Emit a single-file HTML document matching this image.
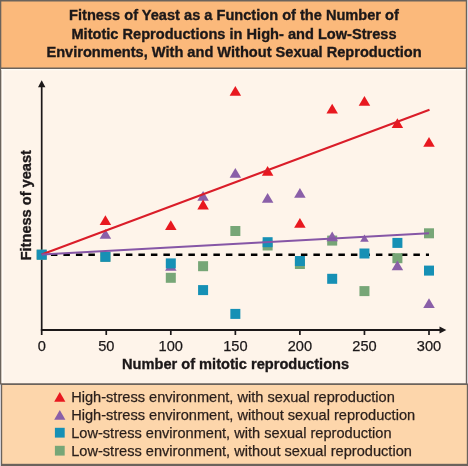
<!DOCTYPE html>
<html><head><meta charset="utf-8">
<style>
html,body{margin:0;padding:0;width:468px;height:466px;overflow:hidden;background:#6b635c;}
svg{display:block;will-change:transform;}
text{font-family:"Liberation Sans",sans-serif;font-size:14.6px;fill:#1c1819;stroke:#1c1819;stroke-width:0.25px;}
text.b,.b text{stroke-width:0.35px;}
.b{font-weight:bold;}
</style></head><body>
<svg width="468" height="466" viewBox="0 0 468 466">
<rect x="0" y="0" width="468" height="466" fill="#d2d0d6"/>
<rect x="0" y="0" width="467" height="384.5" fill="#6b635c"/>
<rect x="1.3" y="1.5" width="464.5" height="66" fill="#fbb97b"/>
<rect x="1.3" y="69" width="464.5" height="314.5" fill="#fef4ea"/>
<rect x="1.3" y="69" width="464.5" height="1.2" fill="#fffdf7"/>
<rect x="2.2" y="69" width="1.2" height="314" fill="#fffdf9"/>
<rect x="1" y="383.5" width="467" height="82.5" fill="#6b635c"/>
<rect x="2.2" y="385" width="464.6" height="78.8" fill="#fdd6ab"/>
<g class="b" text-anchor="middle">
<text class="b" x="234" y="20.3">Fitness of Yeast as a Function of the Number of</text>
<text class="b" x="234" y="38.8">Mitotic Reproductions in High- and Low-Stress</text>
<text class="b" x="234" y="57.3">Environments, With and Without Sexual Reproduction</text>
</g>
<line x1="41.7" y1="86" x2="41.7" y2="335" stroke="#1c1819" stroke-width="1.7"/>
<path d="M41.7 80.3L45.4 87.3L38 87.3Z" fill="#1c1819"/>
<line x1="40.85" y1="330" x2="440" y2="330" stroke="#1c1819" stroke-width="1.9"/>
<path d="M446.3 330L439.5 326.5L439.5 333.5Z" fill="#1c1819"/>
<line x1="106.25" y1="330" x2="106.25" y2="335" stroke="#1c1819" stroke-width="1.7"/>
<line x1="170.80" y1="330" x2="170.80" y2="335" stroke="#1c1819" stroke-width="1.7"/>
<line x1="235.35" y1="330" x2="235.35" y2="335" stroke="#1c1819" stroke-width="1.7"/>
<line x1="299.90" y1="330" x2="299.90" y2="335" stroke="#1c1819" stroke-width="1.7"/>
<line x1="364.45" y1="330" x2="364.45" y2="335" stroke="#1c1819" stroke-width="1.7"/>
<line x1="429.00" y1="330" x2="429.00" y2="335" stroke="#1c1819" stroke-width="1.7"/>
<line x1="38.4" y1="254.8" x2="429" y2="254.8" stroke="#000" stroke-width="2.4" stroke-dasharray="6.5 6"/>
<rect x="36.70" y="249.70" width="10.0" height="10.0" fill="#77a677"/>
<rect x="100.40" y="251.80" width="10.0" height="10.0" fill="#77a677"/>
<rect x="165.80" y="272.80" width="10.0" height="10.0" fill="#77a677"/>
<rect x="198.08" y="261.20" width="10.0" height="10.0" fill="#77a677"/>
<rect x="230.35" y="226.00" width="10.0" height="10.0" fill="#77a677"/>
<rect x="262.63" y="240.50" width="10.0" height="10.0" fill="#77a677"/>
<rect x="294.90" y="259.00" width="10.0" height="10.0" fill="#77a677"/>
<rect x="327.18" y="235.60" width="10.0" height="10.0" fill="#77a677"/>
<rect x="359.45" y="286.10" width="10.0" height="10.0" fill="#77a677"/>
<rect x="392.40" y="253.20" width="10.0" height="10.0" fill="#77a677"/>
<rect x="424.00" y="228.30" width="10.0" height="10.0" fill="#77a677"/>
<path d="M105.40 228.90L111.15 238.70L99.65 238.70Z" fill="#8a5fa8"/>
<path d="M170.80 261.00L176.55 270.80L165.05 270.80Z" fill="#8a5fa8"/>
<path d="M203.08 191.00L208.83 200.80L197.33 200.80Z" fill="#8a5fa8"/>
<path d="M235.35 167.90L241.10 177.70L229.60 177.70Z" fill="#8a5fa8"/>
<path d="M267.63 193.00L273.38 202.80L261.88 202.80Z" fill="#8a5fa8"/>
<path d="M299.90 188.00L305.65 197.80L294.15 197.80Z" fill="#8a5fa8"/>
<path d="M332.18 231.40L337.93 241.20L326.43 241.20Z" fill="#8a5fa8"/>
<path d="M364.45 234.40L368.75 241.80L360.15 241.80Z" fill="#8a5fa8"/>
<path d="M397.40 260.50L403.15 270.30L391.65 270.30Z" fill="#8a5fa8"/>
<path d="M429.00 298.20L434.75 308.00L423.25 308.00Z" fill="#8a5fa8"/>
<path d="M105.40 215.30L111.15 225.10L99.65 225.10Z" fill="#e8181f"/>
<path d="M170.80 220.30L176.55 230.10L165.05 230.10Z" fill="#e8181f"/>
<path d="M203.08 199.60L208.83 209.40L197.33 209.40Z" fill="#e8181f"/>
<path d="M235.35 86.00L241.10 95.80L229.60 95.80Z" fill="#e8181f"/>
<path d="M267.63 165.90L273.38 175.70L261.88 175.70Z" fill="#e8181f"/>
<path d="M299.90 217.90L305.65 227.70L294.15 227.70Z" fill="#e8181f"/>
<path d="M332.18 103.80L337.93 113.60L326.43 113.60Z" fill="#e8181f"/>
<path d="M364.45 95.90L370.20 105.70L358.70 105.70Z" fill="#e8181f"/>
<path d="M397.40 118.20L403.15 128.00L391.65 128.00Z" fill="#e8181f"/>
<path d="M429.00 137.00L434.75 146.80L423.25 146.80Z" fill="#e8181f"/>
<rect x="36.70" y="249.70" width="10.0" height="10.0" fill="#1690b5"/>
<rect x="100.40" y="251.80" width="10.0" height="10.0" fill="#1690b5"/>
<rect x="165.80" y="258.40" width="10.0" height="10.0" fill="#1690b5"/>
<rect x="198.08" y="285.10" width="10.0" height="10.0" fill="#1690b5"/>
<rect x="230.35" y="308.90" width="10.0" height="10.0" fill="#1690b5"/>
<rect x="262.63" y="237.20" width="10.0" height="10.0" fill="#1690b5"/>
<rect x="294.90" y="256.00" width="10.0" height="10.0" fill="#1690b5"/>
<rect x="327.18" y="273.80" width="10.0" height="10.0" fill="#1690b5"/>
<rect x="359.45" y="248.50" width="10.0" height="10.0" fill="#1690b5"/>
<rect x="392.40" y="237.90" width="10.0" height="10.0" fill="#1690b5"/>
<rect x="424.00" y="265.60" width="10.0" height="10.0" fill="#1690b5"/>
<line x1="41.7" y1="254.5" x2="429.5" y2="109.7" stroke="#da1d29" stroke-width="2.1"/>
<line x1="41.7" y1="254.5" x2="429" y2="233.2" stroke="#8656a6" stroke-width="2"/>
<text x="41.70" y="351.3" text-anchor="middle">0</text>
<text x="106.25" y="351.3" text-anchor="middle">50</text>
<text x="170.80" y="351.3" text-anchor="middle">100</text>
<text x="235.35" y="351.3" text-anchor="middle">150</text>
<text x="299.90" y="351.3" text-anchor="middle">200</text>
<text x="364.45" y="351.3" text-anchor="middle">250</text>
<text x="429.00" y="351.3" text-anchor="middle">300</text>
<text class="b" x="235.6" y="369.2" text-anchor="middle">Number of mitotic reproductions</text>
<text class="b" transform="translate(30.8 205.2) rotate(-90)" text-anchor="middle">Fitness of yeast</text>
<path d="M59.80 392.10L65.40 401.70L54.20 401.70Z" fill="#e8181f"/>
<text x="71.2" y="401.5" style="fill:#2a1f1b;stroke:#2a1f1b">High-stress environment, with sexual reproduction</text>
<path d="M59.80 410.10L65.40 419.70L54.20 419.70Z" fill="#8a5fa8"/>
<text x="71.2" y="419.5" style="fill:#2a1f1b;stroke:#2a1f1b">High-stress environment, without sexual reproduction</text>
<rect x="54.90" y="427.80" width="9.8" height="9.8" fill="#1690b5"/>
<text x="71.2" y="437.5" style="fill:#2a1f1b;stroke:#2a1f1b">Low-stress environment, with sexual reproduction</text>
<rect x="54.90" y="445.80" width="9.8" height="9.8" fill="#77a677"/>
<text x="71.2" y="455.5" style="fill:#2a1f1b;stroke:#2a1f1b">Low-stress environment, without sexual reproduction</text>
</svg>
</body></html>
